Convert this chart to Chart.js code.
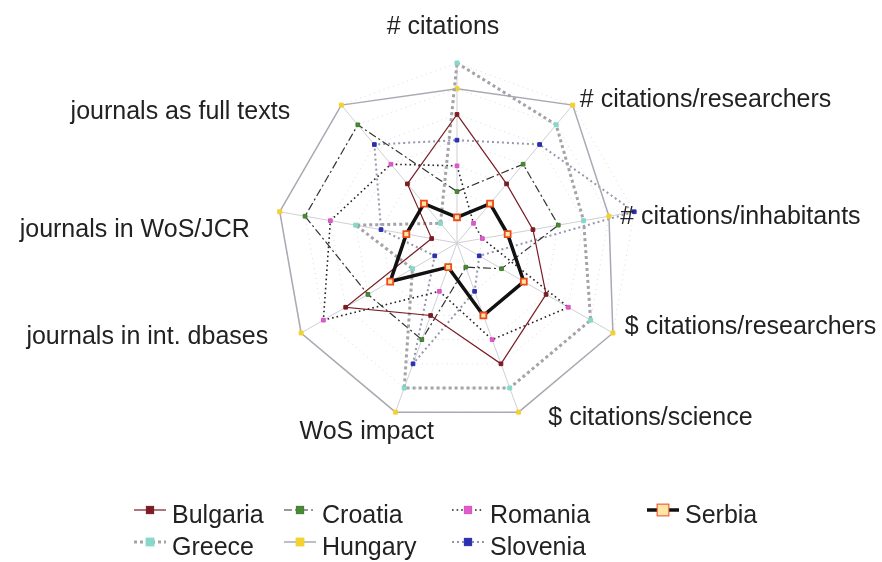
<!DOCTYPE html>
<html lang="en">
<head>
<meta charset="UTF-8">
<title>Citations radar</title>
<script src="https://cdn.jsdelivr.net/npm/chart.js"></script>
<style>
  html, body { margin: 0; padding: 0; background: #fff; }
  #wrap { width: 882px; height: 562px; position: relative; }
</style>
</head>
<body>
<div id="wrap"><canvas id="radar"></canvas></div>
<script>
// axes, clockwise from the top
const axes = ['# citations', '# citations/researchers', '# citations/inhabitants',
  '$ citations/researchers', '$ citations/science', 'WoS impact',
  'journals in int. dbases', 'journals in WoS/JCR', 'journals as full texts'];

// rank of each country on each axis (1 = nearest the centre)
const bulgaria = [5, 3, 3, 4, 5, 3, 5, 1, 3];
const greece   = [7, 6, 5, 6, 6, 6, 2, 4, 1];
const croatia  = [2, 4, 4, 2, 1, 4, 4, 6, 6];
const hungary  = [6, 7, 6, 7, 7, 7, 7, 7, 7];
const romania  = [3, 1, 1, 5, 4, 2, 6, 5, 4];
const slovenia = [4, 5, 7, 1, 2, 5, 1, 3, 5];
const serbia   = [1, 2, 2, 3, 3, 1, 3, 2, 2];
const rankMax = 7;

const FONT = '"Liberation Sans", Arial, sans-serif';

function series(label, data, line, width, dash, mark, markBorder, radius) {
  return {
    label: label,
    data: data,
    borderColor: line,
    borderWidth: width,
    borderDash: dash,
    fill: false,
    tension: 0,
    pointStyle: 'rect',
    pointRadius: radius,
    pointHoverRadius: radius,
    pointBackgroundColor: mark,
    pointBorderColor: markBorder,
    pointBorderWidth: 1
  };
}

// legend runs down the columns: two rows
const datasets = [
  series('Bulgaria', bulgaria, '#7b1c24', 1.2, [], '#7b1c24', '#7b1c24', 2.6),
  series('Greece', greece, '#a3a3a8', 3, [3, 3], '#86d9c9', '#86d9c9', 2.8),
  series('Croatia', croatia, '#333333', 1.2, [8, 3, 2, 3], '#4a8a34', '#3e7d2e', 2.6),
  series('Hungary', hungary, '#a9a9b3', 1.5, [], '#f2d22e', '#f2d22e', 2.8),
  series('Romania', romania, '#222222', 1.6, [1.6, 3], '#df5ccb', '#d94fc4', 2.6),
  series('Slovenia', slovenia, '#9399aa', 2, [2, 3], '#2b2fb0', '#2b2fb0', 2.6),
  series('Serbia', serbia, '#111111', 3.5, [], '#ffe6a6', '#ea4a1c', 4.2)
];
datasets[6].order = -1;
datasets[6].pointBorderWidth = 1.8;

// label placement around the axis ends
const labelAlign = ['center', 'left', 'left', 'left', 'left', 'center', 'right', 'right', 'right'];
const labelNudge = [[-14, -28], [2, 1], [-22, 7], [5, -10], [27, -2], [-26, 12], [-26, 0], [-22, 20], [-46, 13]];

const axisLabels = {
  id: 'axisLabels',
  afterDraw(chart) {
    const scale = chart.scales.r;
    const ctx = chart.ctx;
    ctx.save();
    ctx.font = '25px ' + FONT;
    ctx.fillStyle = '#222';
    ctx.textBaseline = 'middle';
    axes.forEach((text, i) => {
      const p = scale.getPointPosition(i, scale.drawingArea + 8);
      ctx.textAlign = labelAlign[i];
      ctx.fillText(text, p.x + labelNudge[i][0], p.y + labelNudge[i][1]);
    });
    ctx.restore();
  }
};

const legendCols = [172, 322, 490, 685];
const legendRows = [516, 548];

const sideLegend = {
  id: 'sideLegend',
  afterDraw(chart) {
    const ctx = chart.ctx;
    ctx.save();
    chart.data.datasets.forEach((ds, i) => {
      const x = legendCols[Math.floor(i / 2)];
      const y = legendRows[i % 2];
      const x0 = x - 38, x1 = x - 6;
      ctx.strokeStyle = ds.borderColor;
      ctx.lineWidth = ds.borderWidth;
      ctx.setLineDash(ds.borderDash);
      ctx.beginPath();
      ctx.moveTo(x0, y - 6);
      ctx.lineTo(x1, y - 6);
      ctx.stroke();
      ctx.setLineDash([]);
      const s = ds.pointRadius * 1.4;
      const mx = (x0 + x1) / 2;
      ctx.fillStyle = ds.pointBackgroundColor;
      ctx.strokeStyle = ds.pointBorderColor;
      ctx.lineWidth = 1;
      ctx.fillRect(mx - s, y - 6 - s, 2 * s, 2 * s);
      ctx.strokeRect(mx - s, y - 6 - s, 2 * s, 2 * s);
      ctx.font = '25px ' + FONT;
      ctx.fillStyle = '#222';
      ctx.textAlign = 'left';
      ctx.textBaseline = 'middle';
      ctx.fillText(ds.label, x, y);
    });
    ctx.restore();
  }
};

new Chart(document.getElementById('radar'), {
  type: 'radar',
  data: { labels: axes, datasets: datasets },
  options: {
    responsive: true,
    maintainAspectRatio: false,
    animation: false,
    layout: { padding: { left: 277, top: 63, right: 245, bottom: 139 } },
    scales: {
      r: {
        min: 0,
        max: rankMax,
        ticks: { display: false, stepSize: 1 },
        pointLabels: { display: false },
        angleLines: { color: '#cfcfd6', lineWidth: 1 },
        grid: { color: 'rgba(190,190,190,0.55)', lineWidth: 1 },
        border: { dash: [1, 4] }
      }
    },
    plugins: {
      legend: { display: false },
      tooltip: { enabled: false }
    }
  },
  plugins: [axisLabels, sideLegend]
});
</script>
</body>
</html>
